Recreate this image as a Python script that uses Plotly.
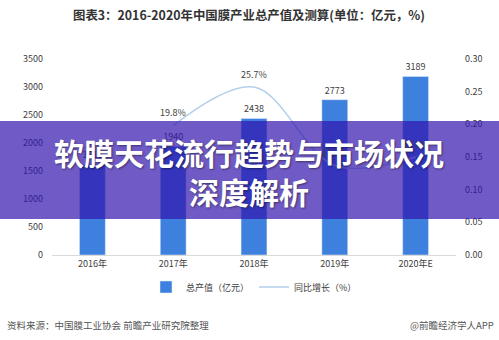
import plotly.graph_objects as go

# Membrane industry total output (100 million CNY) and year-on-year growth
years = ["2016年", "2017年", "2018年", "2019年", "2020年E"]
output_value = [1619, 1940, 2438, 2773, 3189]
growth_years = ["2017年", "2018年", "2019年", "2020年E"]
growth_rate = [0.198, 0.257, 0.137, 0.150]
growth_labels = ["19.8%", "25.7%", "13.7%", "15.0%"]
left_ticks = [0, 500, 1000, 1500, 2000, 2500, 3000, 3500]
right_ticks = [0, 0.05, 0.10, 0.15, 0.20, 0.25, 0.30]

FONT = "Noto Sans CJK SC"
TXT = "#404040"

fig = go.Figure()
fig.add_trace(go.Bar(
    x=years, y=output_value, name="总产值（亿元）",
    marker=dict(color="#3e80de"),
    text=[str(v) for v in output_value], textposition="outside",
    textfont=dict(size=9, color=TXT, family=FONT), cliponaxis=False,
))
fig.add_trace(go.Scatter(
    x=growth_years, y=growth_rate, name="同比增长（%）", yaxis="y2",
    mode="lines", line=dict(color="#b4cfeb", width=1.5, shape="spline", smoothing=1.0),
    cliponaxis=False,
))

# plot area spans x 52..456 px and y 59..255 px
H = 196.0
def py(pix):
    return (255 - pix) / H

fig.update_layout(
    width=499, height=340,
    margin=dict(l=52, r=43, t=59, b=85),
    paper_bgcolor="white", plot_bgcolor="white",
    font=dict(family=FONT, size=9, color=TXT),
    bargap=0.68,
    showlegend=True,
    legend=dict(orientation="h", x=0.5, xanchor="center", y=py(287), yanchor="middle",
                font=dict(size=9, color=TXT), itemwidth=30, bgcolor="rgba(0,0,0,0)"),
    xaxis=dict(showgrid=False, showline=True, linecolor="#d9d9d9", linewidth=1,
               ticks="", tickfont=dict(size=9, color=TXT), fixedrange=True),
    yaxis=dict(range=[0, 3500], tickvals=left_ticks, showgrid=False, zeroline=False,
               showline=False, tickfont=dict(size=9, color=TXT), ticklabelstandoff=8),
    yaxis2=dict(range=[0, 0.30], tickvals=right_ticks, tickformat=".2f", overlaying="y",
                side="right", showgrid=False, zeroline=False, showline=False,
                tickfont=dict(size=9, color=TXT), ticklabelstandoff=8),
)

# growth-rate labels placed above each line point
for gx, gy, gl in zip(growth_years, growth_rate, growth_labels):
    fig.add_annotation(
        x=gx, y=gy, xref="x", yref="y2", text=gl, showarrow=False,
        yshift=13, font=dict(size=9, color=TXT, family=FONT),
    )

# chart title
fig.add_annotation(
    text="<b>图表3：2016-2020年中国膜产业总产值及测算(单位：亿元，%)</b>",
    xref="paper", yref="paper", x=0.488, y=py(15), xanchor="center", yanchor="middle",
    showarrow=False, font=dict(size=12.4, color="#333333", family=FONT),
)

# source line and credit
fig.add_annotation(
    text="资料来源：中国膜工业协会 前瞻产业研究院整理",
    xref="paper", yref="paper", x=(5 - 52) / 404.0, y=py(325), xanchor="left", yanchor="middle",
    showarrow=False, font=dict(size=9.5, color="#555555", family=FONT),
)
fig.add_annotation(
    text="@前瞻经济学人APP",
    xref="paper", yref="paper", x=(496 - 52) / 404.0, y=py(325), xanchor="right", yanchor="middle",
    showarrow=False, font=dict(size=9.5, color="#555555", family=FONT),
)

# translucent purple banner across the chart
fig.add_shape(
    type="rect", xref="paper", yref="paper",
    x0=-52 / 404.0, x1=(499 - 52) / 404.0, y0=py(219), y1=py(121),
    fillcolor="rgba(48,18,172,0.69)", line=dict(width=0), layer="above",
)
fig.add_annotation(
    text="<b>软膜天花流行趋势与市场状况<br>深度解析</b>",
    xref="paper", yref="paper", x=(249 - 52) / 404.0, y=py(171), xanchor="center", yanchor="middle",
    showarrow=False,
    font=dict(size=30, color="white", family=FONT, shadow="1px 1px 2px rgba(0,0,0,0.45)"),
)

fig.write_html("out.html")
